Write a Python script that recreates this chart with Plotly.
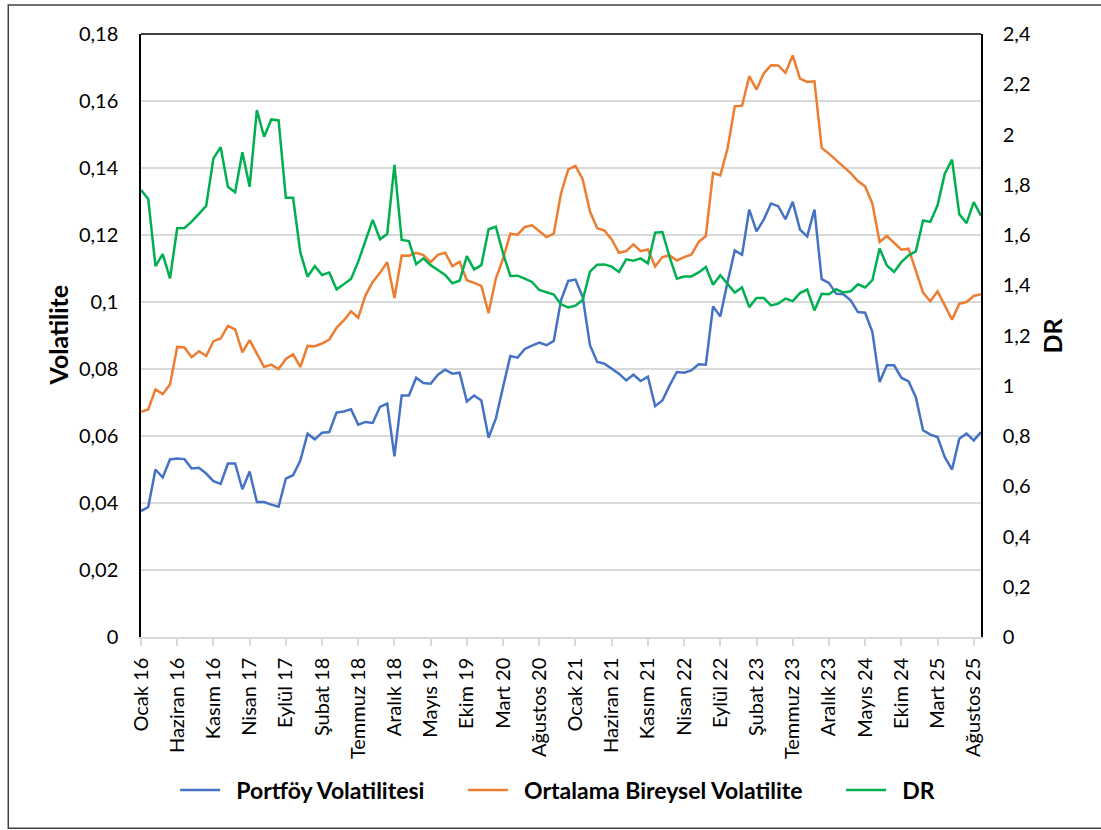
import plotly.graph_objects as go

# Monthly series, Ocak 2016 .. Eylül 2025
month_names = ["Ocak", "Şubat", "Mart", "Nisan", "Mayıs", "Haziran",
               "Temmuz", "Ağustos", "Eylül", "Ekim", "Kasım", "Aralık"]

portfoy_vol = [
    0.0376, 0.0388, 0.0500, 0.0476, 0.0530, 0.0533, 0.0531, 0.0503, 0.0505, 0.0488,
    0.0465, 0.0457, 0.0518, 0.0518, 0.0441, 0.0494, 0.0403, 0.0403, 0.0395, 0.0389,
    0.0473, 0.0483, 0.0527, 0.0607, 0.0590, 0.0610, 0.0612, 0.0670, 0.0673, 0.0680,
    0.0634, 0.0642, 0.0639, 0.0687, 0.0697, 0.0539, 0.0721, 0.0721, 0.0774, 0.0758,
    0.0756, 0.0783, 0.0798, 0.0786, 0.0789, 0.0703, 0.0721, 0.0706, 0.0595, 0.0652,
    0.0746, 0.0839, 0.0834, 0.0860, 0.0870, 0.0879, 0.0871, 0.0884, 0.1005, 0.1063,
    0.1067, 0.1015, 0.0871, 0.0821, 0.0816, 0.0801, 0.0786, 0.0766, 0.0783, 0.0764,
    0.0777, 0.0689, 0.0706, 0.0751, 0.0791, 0.0789, 0.0796, 0.0814, 0.0813, 0.0987,
    0.0957, 0.1060, 0.1154, 0.1141, 0.1276, 0.1211, 0.1246, 0.1294, 0.1286, 0.1247,
    0.1299, 0.1216, 0.1196, 0.1276, 0.1068, 0.1057, 0.1025, 0.1023, 0.1005, 0.0970,
    0.0968, 0.0910, 0.0761, 0.0811, 0.0811, 0.0774, 0.0763, 0.0716, 0.0617, 0.0604,
    0.0597, 0.0537, 0.0500, 0.0592, 0.0607, 0.0587, 0.0612,
]

ortalama_vol = [
    0.0672, 0.0679, 0.0739, 0.0725, 0.0754, 0.0866, 0.0864, 0.0835, 0.0853, 0.0839,
    0.0883, 0.0891, 0.0929, 0.0918, 0.0850, 0.0886, 0.0846, 0.0806, 0.0813, 0.0800,
    0.0830, 0.0844, 0.0806, 0.0869, 0.0868, 0.0876, 0.0888, 0.0923, 0.0945, 0.0972,
    0.0953, 0.1020, 0.1060, 0.1087, 0.1119, 0.1012, 0.1139, 0.1138, 0.1147, 0.1140,
    0.1119, 0.1141, 0.1147, 0.1107, 0.1120, 0.1065, 0.1057, 0.1048, 0.0967, 0.1070,
    0.1129, 0.1204, 0.1201, 0.1224, 0.1229, 0.1211, 0.1194, 0.1204, 0.1324, 0.1396,
    0.1406, 0.1366, 0.1270, 0.1220, 0.1213, 0.1187, 0.1147, 0.1152, 0.1172, 0.1152,
    0.1157, 0.1106, 0.1134, 0.1139, 0.1124, 0.1134, 0.1141, 0.1179, 0.1197, 0.1385,
    0.1378, 0.1458, 0.1584, 0.1586, 0.1674, 0.1634, 0.1682, 0.1707, 0.1706, 0.1684,
    0.1736, 0.1667, 0.1657, 0.1659, 0.1460, 0.1443, 0.1423, 0.1405, 0.1385, 0.1361,
    0.1345, 0.1294, 0.1179, 0.1197, 0.1177, 0.1156, 0.1159, 0.1095, 0.1028, 0.1002,
    0.1032, 0.0990, 0.0947, 0.0995, 0.1000, 0.1018, 0.1023,
]

dr = [
    1.779, 1.743, 1.476, 1.524, 1.427, 1.627, 1.628, 1.653, 1.684, 1.716,
    1.905, 1.949, 1.792, 1.770, 1.929, 1.792, 2.097, 1.991, 2.060, 2.056,
    1.748, 1.748, 1.531, 1.434, 1.476, 1.441, 1.451, 1.384, 1.404, 1.425,
    1.494, 1.573, 1.660, 1.583, 1.604, 1.879, 1.580, 1.576, 1.484, 1.507,
    1.480, 1.461, 1.441, 1.408, 1.418, 1.516, 1.463, 1.480, 1.623, 1.633,
    1.527, 1.437, 1.438, 1.426, 1.413, 1.381, 1.372, 1.363, 1.324, 1.312,
    1.319, 1.341, 1.454, 1.482, 1.483, 1.474, 1.453, 1.503, 1.498, 1.507,
    1.487, 1.609, 1.612, 1.512, 1.426, 1.435, 1.435, 1.451, 1.473, 1.402,
    1.440, 1.404, 1.371, 1.391, 1.313, 1.349, 1.349, 1.320, 1.327, 1.347,
    1.337, 1.369, 1.383, 1.300, 1.366, 1.364, 1.384, 1.371, 1.376, 1.404,
    1.391, 1.420, 1.546, 1.479, 1.453, 1.492, 1.519, 1.535, 1.658, 1.652,
    1.718, 1.844, 1.900, 1.683, 1.647, 1.731, 1.677,
]

# category labels: "Ocak 16", "Şubat 16", ...
months = [f"{month_names[i % 12]} {16 + i // 12}" for i in range(len(dr))]
tick_months = months[::5]

FONT = "Lato, 'Open Sans', sans-serif"
GRID = "#D9D9D9"
LEAD = "&nbsp;" * 2    # gap between legend line and its text
TRAIL = "&nbsp;" * 6   # gap between legend entries

fig = go.Figure()

fig.add_trace(go.Scatter(
    x=months, y=portfoy_vol, name=LEAD + "Portföy Volatilitesi" + TRAIL,
    mode="lines", line=dict(color="#4472C4", width=2.5),
))
fig.add_trace(go.Scatter(
    x=months, y=ortalama_vol, name=LEAD + "Ortalama Bireysel Volatilite" + TRAIL,
    mode="lines", line=dict(color="#ED7D31", width=2.5),
))
fig.add_trace(go.Scatter(
    x=months, y=dr, name=LEAD + "DR", yaxis="y2",
    mode="lines", line=dict(color="#00B050", width=2.5),
))

# top edge of plot area (black, like the y axes)
fig.add_shape(type="line", xref="paper", yref="paper",
              x0=0, x1=1, y0=1, y1=1, line=dict(color="black", width=1.5))

# chart-area border
fig.add_shape(type="rect", xref="paper", yref="paper",
              x0=-0.158, x1=1.146, y0=-0.317, y1=1.048,
              line=dict(color="#404040", width=1.5), layer="below")

# axis titles
fig.add_annotation(x=-0.1, y=0.5, xref="paper", yref="paper", text="<b>Volatilite</b>",
                   xanchor="center", yanchor="middle",
                   textangle=-90, showarrow=False, font=dict(size=25, color="black"))
fig.add_annotation(x=1.0845, y=0.5, xref="paper", yref="paper", text="<b>DR</b>",
                   xanchor="center", yanchor="middle",
                   textangle=-90, showarrow=False, font=dict(size=25, color="black"))

fig.update_layout(
    width=1101, height=830,
    margin=dict(l=141, r=120, t=34, b=193),
    separators=",.",
    font=dict(family=FONT, size=20, color="black"),
    plot_bgcolor="white",
    paper_bgcolor="white",
    xaxis=dict(
        type="category",
        categoryorder="array", categoryarray=months,
        range=[0, len(months) - 1],
        tickmode="array", tickvals=tick_months, ticktext=tick_months,
        tickangle=-90,
        ticks="outside", ticklen=7, tickcolor=GRID, tickwidth=1.5,
        showline=True, linecolor=GRID, linewidth=1.5,
        showgrid=False, zeroline=False,
        ticklabelstandoff=4,
    ),
    yaxis=dict(
        range=[0, 0.18], dtick=0.02,
        showline=True, linecolor="black", linewidth=1.5,
        gridcolor=GRID, gridwidth=1.5, zeroline=False,
        ticklabelstandoff=17,
    ),
    yaxis2=dict(
        range=[0, 2.4], dtick=0.2,
        overlaying="y", side="right",
        showline=True, linecolor="black", linewidth=1.5,
        showgrid=False, zeroline=False,
        ticklabelstandoff=16,
    ),
    legend=dict(
        orientation="h", x=0.496, xanchor="center", y=-0.254, yanchor="middle",
        font=dict(size=23, family=FONT, weight="bold"),
        itemwidth=40,
    ),
)

# page body has an 8px default margin; drop it so the figure sits at (0,0)
fig.write_html("out.html", config={"displayModeBar": False},
               post_script="document.body.style.margin='0';")
